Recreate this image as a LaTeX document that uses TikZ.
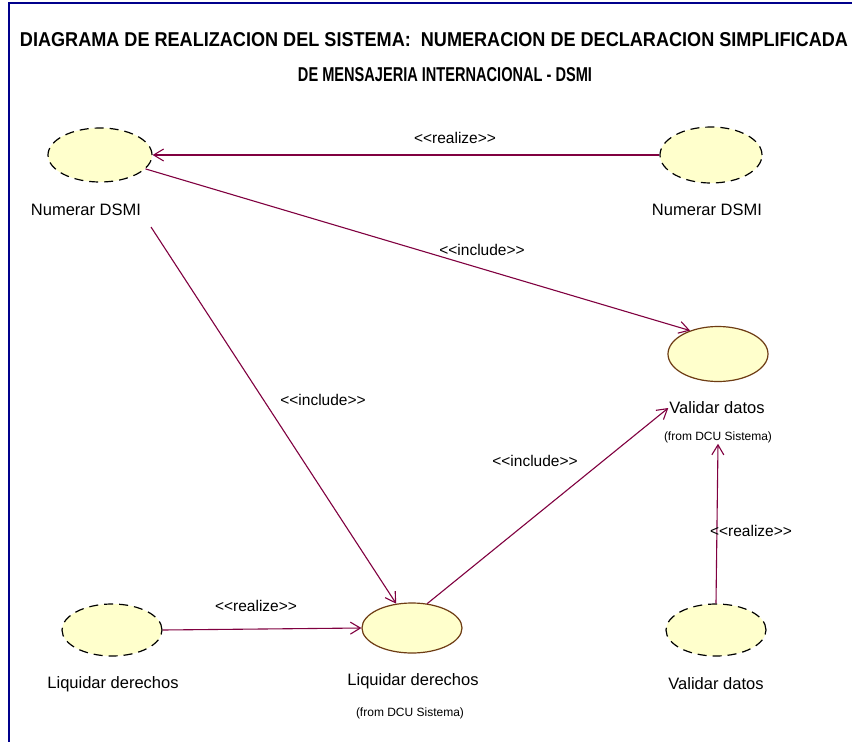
\documentclass[tikz,border=0pt]{standalone}
\usepackage{fontspec}
\setmainfont{Liberation Sans}
\usetikzlibrary{shapes.geometric,arrows.meta}
\definecolor{relcol}{RGB}{128,0,64}
\definecolor{caseyellow}{RGB}{255,255,204}
\definecolor{casebrown}{RGB}{110,60,20}
\definecolor{framecol}{RGB}{0,0,140}
\newcommand{\stereotxt}[1]{{<}{<}#1{>}{>}}

\begin{document}
\begin{tikzpicture}[x=1pt, y=-1pt,
        usecase/.style={ellipse, draw=casebrown, line width=1.2pt, fill=caseyellow,
            minimum width=100pt, minimum height=52pt, inner sep=0pt},
        realcase/.style={usecase, draw=black, dash pattern=on 9pt off 6pt},
        lbl/.style={font=\fontsize{16.5}{19}\selectfont, inner sep=1pt},
        fromlbl/.style={font=\fontsize{12}{14}\selectfont, inner sep=1pt},
        stereo/.style={font=\fontsize{15.5}{18}\selectfont, inner sep=1pt},
        rel/.style={draw=relcol, line width=1.1pt, -{Straight Barb[length=10pt,width=12pt]}}]
    \useasboundingbox (0,0) rectangle (852,742);
    \fill[white] (0,0) rectangle (852,742);
    \draw[framecol, line width=2pt] (9,742) -- (9,3) -- (852,3);

    % title
    \node[inner sep=0pt] (title1) at (434,40)
        {\resizebox{828pt}{14pt}{\bfseries DIAGRAMA DE REALIZACION DEL SISTEMA:\ \ NUMERACION DE DECLARACION SIMPLIFICADA}};
    \node[inner sep=0pt] (title2) at (445,75)
        {\resizebox{294pt}{14pt}{\bfseries DE MENSAJERIA INTERNACIONAL - DSMI}};

    % use cases
    \node[realcase, minimum width=104pt, minimum height=54pt] (numA) at (100,155) {};
    \node[lbl] (numAl) at (86,210) {Numerar DSMI};
    \node[realcase, minimum width=102pt, minimum height=56pt] (numB) at (711,155) {};
    \node[lbl] (numBl) at (707,210) {Numerar DSMI};

    \node[usecase, minimum height=55pt] (valC) at (718,354) {};
    \node[lbl] (valCl) at (717,408) {Validar datos};
    \node[fromlbl] (valCf) at (718,437) {(from DCU Sistema)};

    \node[usecase, minimum height=50pt] (liqD) at (412,628) {};
    \node[lbl] (liqDl) at (413,681) {Liquidar derechos};
    \node[fromlbl] (liqDf) at (410,713) {(from DCU Sistema)};

    \node[realcase] (liqE) at (112,630) {};
    \node[lbl] (liqEl) at (113,684) {Liquidar derechos};
    \node[realcase] (valF) at (716,630) {};
    \node[lbl] (valFl) at (716,684) {Validar datos};

    \coordinate (numAbot) at (151,227);

    % relations
    \draw[rel] (numB.west) -- (numA.east);
    \node[stereo] (r1) at (455,138) {\stereotxt{realize}};
    \draw[rel] (numA.-17) -- (valC.140);
    \node[stereo] (i1) at (482,250) {\stereotxt{include}};
    \draw[rel] (numAbot) -- (liqD.123);
    \node[stereo] (i2) at (323,400) {\stereotxt{include}};
    \draw[rel] (liqD.58) -- (valCl.west);
    \node[stereo] (i3) at (535,461) {\stereotxt{include}};
    \draw[rel] (valF.north) -- (valCf.south);
    \node[stereo] (r2) at (751,531) {\stereotxt{realize}};
    \draw[rel] (liqE.east) -- (liqD.west);
    \node[stereo] (r3) at (256,606) {\stereotxt{realize}};
\end{tikzpicture}
\end{document}
